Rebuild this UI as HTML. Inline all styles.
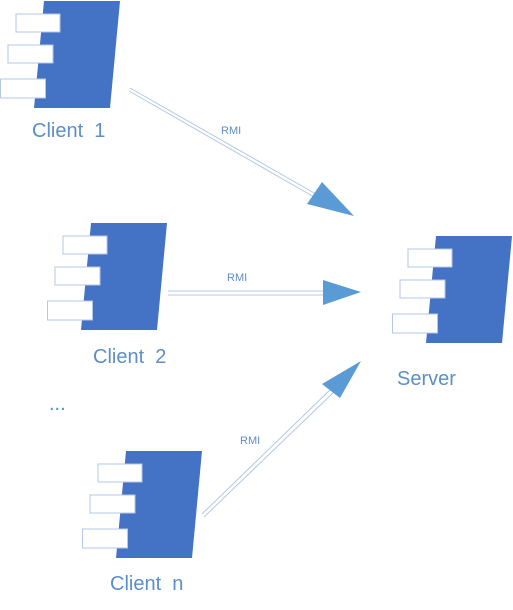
<!DOCTYPE html>
<html><head><style>
body{margin:0;background:#fff;width:513px;height:610px;overflow:hidden}
svg{position:absolute;left:0;top:0}
text{font-family:"Liberation Sans",sans-serif;fill:#5b8fc9}
</style></head><body>
<svg width="513" height="610" viewBox="0 0 513 610">
<defs>
<g id="comp">
<polygon points="44,1 120,1 110,108 34,108" fill="#4472c4"/>
<rect x="16" y="14" width="44" height="18" fill="#fff" stroke="#b4c7e7" stroke-width="1"/>
<rect x="8" y="45" width="45" height="18" fill="#fff" stroke="#b4c7e7" stroke-width="1"/>
<rect x="0.5" y="79" width="45" height="19" fill="#fff" stroke="#b4c7e7" stroke-width="1"/>
</g>
</defs>
<use href="#comp"/>
<use href="#comp" transform="translate(47,222)"/>
<use href="#comp" transform="translate(82,450)"/>
<use href="#comp" transform="translate(392,235)"/>
<text x="32" y="137" font-size="20">Client&#160;&#160;1</text>
<text x="93" y="363" font-size="20">Client&#160;&#160;2</text>
<text x="49" y="410" font-size="20">...</text>
<text x="110" y="590" font-size="20">Client&#160;&#160;n</text>
<text x="397" y="385" font-size="20">Server</text>
<text x="221" y="134" font-size="11">RMI</text>
<text x="227" y="281" font-size="11">RMI</text>
<text x="240" y="444" font-size="11">RMI</text>
<g stroke="#b4c7e7" stroke-width="1" fill="none">
<line x1="130" y1="88" x2="316" y2="194"/>
<line x1="129" y1="91" x2="314" y2="197"/>
<line x1="168" y1="291" x2="326" y2="291"/>
<line x1="168" y1="295" x2="326" y2="295"/>
<line x1="202" y1="514" x2="332" y2="388"/>
<line x1="204" y1="517" x2="335" y2="391"/>
</g>
<g fill="#5b9bd5">
<polygon points="354,216 307,204 322,182"/>
<polygon points="361,292 323,280 323,305"/>
<polygon points="361,361 322,384 340,398"/>
</g>
</svg>
</body></html>
